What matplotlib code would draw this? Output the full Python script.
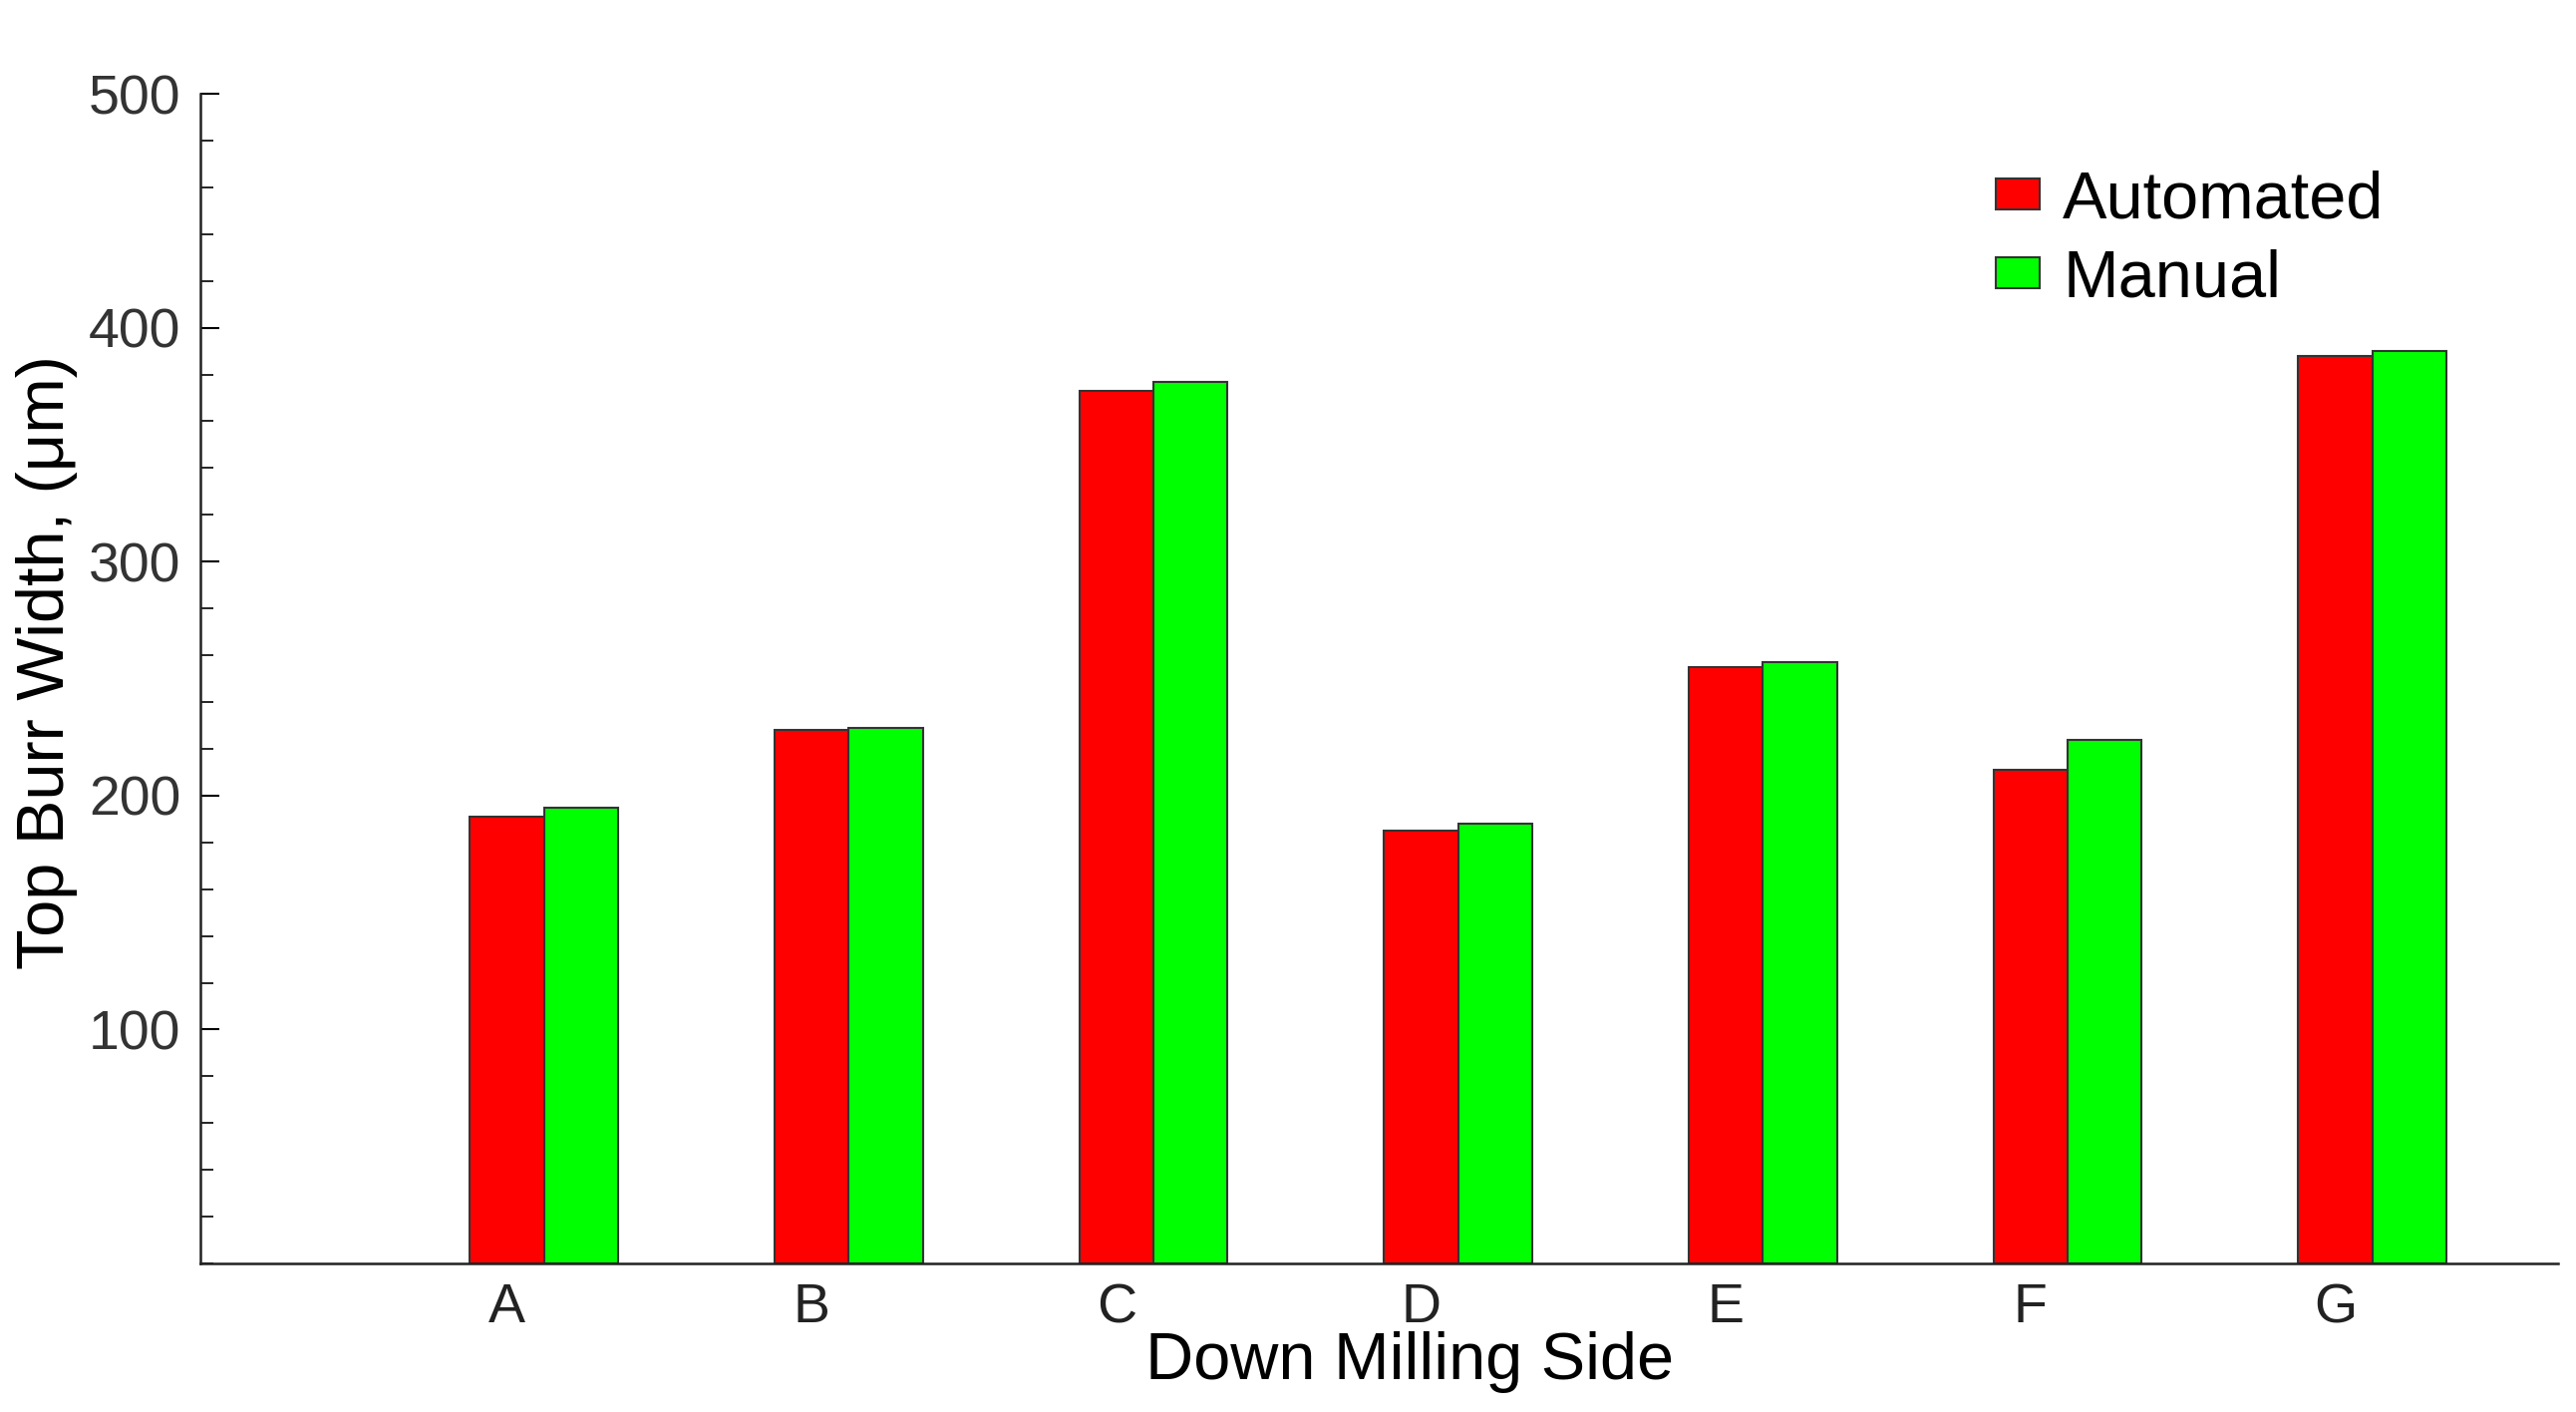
import matplotlib
matplotlib.use( "Agg" )
import matplotlib.pyplot as pyplot
from matplotlib.ticker import MultipleLocator
import numpy


# data
sides = [ 'A', 'B', 'C', 'D', 'E', 'F', 'G' ]
automated = [ 191, 228, 373, 185, 255, 211, 388 ]
manual = [ 195, 229, 377, 188, 257, 224, 390 ]
series_names = [ 'Automated', 'Manual' ]


pyplot.rcParams[ 'font.family' ] = [ 'Liberation Sans', 'DejaVu Sans' ]

fig = pyplot.figure( figsize=( 25.84, 14.16 ), dpi=100 )
ax = fig.add_axes( [ 0.0778, 0.1052, 0.9152, 0.8284 ] )

x = numpy.arange( len( sides ) )
width = 0.243

ax.bar( x - width / 2, automated, width, color='#ff0000', edgecolor='#333333', linewidth=1.5, label=series_names[0] )
ax.bar( x + width / 2, manual, width, color='#00ff00', edgecolor='#333333', linewidth=1.5, label=series_names[1] )

ax.set_xlim( -1.127, 6.609 )
ax.set_ylim( 0, 500 )

# axes styling
for side in [ 'top', 'right' ]:
    ax.spines[ side ].set_visible( False )
for side in [ 'left', 'bottom' ]:
    ax.spines[ side ].set_linewidth( 1.8 )
    ax.spines[ side ].set_color( '#222222' )

# category labels sit under the first bar of each group
ax.set_xticks( x - width / 2 )
ax.set_xticklabels( sides )
ax.tick_params( axis='x', length=0, pad=14, labelsize=40, labelcolor='#222222' )

ax.set_yticks( [ 100, 200, 300, 400, 500 ] )
ax.yaxis.set_minor_locator( MultipleLocator( 20 ) )
ax.tick_params( axis='y', which='major', direction='in', length=14, width=1.5, pad=14, labelsize=40, labelcolor='#333333' )
ax.tick_params( axis='y', which='minor', direction='in', length=9, width=1.2 )

ax.set_xlabel( 'Down Milling Side', fontsize=48 )
ax.set_ylabel( 'Top Burr Width, (μm)', fontsize=48 )
ax.xaxis.set_label_coords( 0.513, -0.058 )
ax.yaxis.set_label_coords( -0.052, 0.514 )

ax.legend( loc='upper left', bbox_to_anchor=( 0.762, 0.903 ), bbox_transform=fig.transFigure,
           frameon=False, fontsize=48, handlelength=0.65, handleheight=0.34,
           handletextpad=0.35, labelspacing=0.25, borderpad=0 )

pyplot.savefig( "out.png", format='png' )
